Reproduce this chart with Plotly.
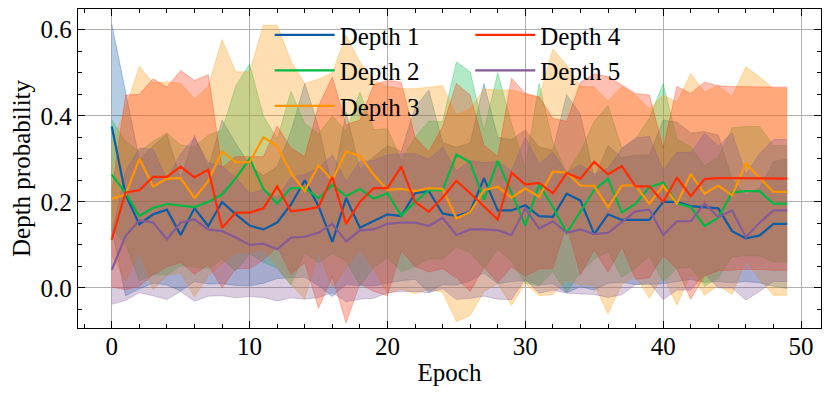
import plotly.graph_objs as go

epochs = list(range(50))

depth1_mean = [0.375, 0.217, 0.148, 0.171, 0.182, 0.123, 0.185, 0.144, 0.200, 0.171,
               0.145, 0.136, 0.152, 0.194, 0.250, 0.190, 0.107, 0.209, 0.140, 0.155,
               0.171, 0.167, 0.220, 0.225, 0.173, 0.167, 0.177, 0.255, 0.180, 0.180,
               0.192, 0.167, 0.165, 0.219, 0.203, 0.125, 0.171, 0.158, 0.158, 0.158,
               0.200, 0.200, 0.190, 0.188, 0.185, 0.132, 0.115, 0.122, 0.149, 0.149]
depth1_std = [0.238, 0.235, 0.150, 0.160, 0.175, 0.130, 0.170, 0.135, 0.190, 0.165,
              0.140, 0.125, 0.130, 0.170, 0.225, 0.185, 0.127, 0.200, 0.135, 0.150,
              0.160, 0.150, 0.200, 0.235, 0.165, 0.160, 0.160, 0.220, 0.170, 0.165,
              0.175, 0.160, 0.155, 0.230, 0.200, 0.130, 0.160, 0.145, 0.150, 0.150,
              0.190, 0.185, 0.170, 0.175, 0.170, 0.120, 0.100, 0.110, 0.145, 0.150]

depth2_mean = [0.263, 0.221, 0.167, 0.186, 0.195, 0.192, 0.188, 0.200, 0.217, 0.255,
               0.300, 0.230, 0.196, 0.232, 0.232, 0.208, 0.240, 0.213, 0.230, 0.208,
               0.220, 0.168, 0.200, 0.227, 0.227, 0.310, 0.292, 0.205, 0.295, 0.222,
               0.145, 0.240, 0.188, 0.128, 0.177, 0.227, 0.254, 0.175, 0.196, 0.234,
               0.245, 0.196, 0.188, 0.144, 0.163, 0.222, 0.225, 0.225, 0.196, 0.196]
depth2_std = [0.127, 0.120, 0.150, 0.155, 0.165, 0.140, 0.140, 0.155, 0.150, 0.215,
              0.220, 0.170, 0.150, 0.225, 0.150, 0.150, 0.160, 0.150, 0.225, 0.160,
              0.150, 0.130, 0.150, 0.160, 0.160, 0.215, 0.210, 0.160, 0.205, 0.160,
              0.134, 0.235, 0.150, 0.138, 0.140, 0.160, 0.170, 0.150, 0.150, 0.160,
              0.230, 0.150, 0.140, 0.140, 0.140, 0.150, 0.150, 0.150, 0.135, 0.135]

depth3_mean = [0.207, 0.217, 0.300, 0.236, 0.254, 0.255, 0.209, 0.248, 0.317, 0.292,
               0.292, 0.350, 0.330, 0.267, 0.225, 0.285, 0.250, 0.317, 0.307, 0.263,
               0.228, 0.230, 0.225, 0.232, 0.230, 0.162, 0.176, 0.227, 0.235, 0.210,
               0.231, 0.212, 0.270, 0.268, 0.238, 0.237, 0.187, 0.238, 0.238, 0.196,
               0.238, 0.196, 0.265, 0.219, 0.238, 0.215, 0.289, 0.255, 0.223, 0.223]
depth3_std = [0.130, 0.200, 0.215, 0.240, 0.225, 0.220, 0.230, 0.220, 0.260, 0.210,
              0.210, 0.260, 0.280, 0.260, 0.250, 0.200, 0.250, 0.270, 0.218, 0.220,
              0.240, 0.233, 0.238, 0.235, 0.240, 0.240, 0.240, 0.235, 0.225, 0.250,
              0.220, 0.230, 0.285, 0.250, 0.230, 0.230, 0.247, 0.230, 0.210, 0.220,
              0.210, 0.236, 0.233, 0.236, 0.232, 0.230, 0.225, 0.235, 0.240, 0.240]

depth4_mean = [0.112, 0.222, 0.227, 0.258, 0.258, 0.282, 0.257, 0.275, 0.140, 0.175,
               0.175, 0.185, 0.236, 0.178, 0.182, 0.188, 0.258, 0.149, 0.200, 0.232,
               0.232, 0.282, 0.200, 0.177, 0.210, 0.249, 0.220, 0.190, 0.159, 0.268,
               0.240, 0.244, 0.220, 0.267, 0.254, 0.293, 0.264, 0.283, 0.236, 0.236,
               0.200, 0.256, 0.213, 0.253, 0.255, 0.255, 0.255, 0.255, 0.254, 0.254]
depth4_std = [0.110, 0.226, 0.223, 0.228, 0.209, 0.223, 0.225, 0.221, 0.140, 0.130,
              0.130, 0.120, 0.140, 0.147, 0.123, 0.235, 0.232, 0.230, 0.190, 0.240,
              0.250, 0.196, 0.150, 0.140, 0.165, 0.226, 0.228, 0.142, 0.146, 0.219,
              0.212, 0.200, 0.174, 0.120, 0.224, 0.204, 0.227, 0.188, 0.216, 0.212,
              0.125, 0.212, 0.239, 0.225, 0.215, 0.213, 0.212, 0.212, 0.213, 0.213]

depth5_mean = [0.042, 0.121, 0.157, 0.152, 0.113, 0.152, 0.159, 0.136, 0.132, 0.117,
               0.100, 0.103, 0.090, 0.117, 0.119, 0.128, 0.149, 0.108, 0.134, 0.136,
               0.149, 0.152, 0.152, 0.144, 0.163, 0.123, 0.136, 0.136, 0.134, 0.123,
               0.185, 0.138, 0.155, 0.128, 0.136, 0.125, 0.128, 0.154, 0.178, 0.182,
               0.123, 0.155, 0.155, 0.196, 0.165, 0.180, 0.118, 0.152, 0.180, 0.180]
depth5_std = [0.080, 0.150, 0.168, 0.170, 0.140, 0.160, 0.190, 0.155, 0.150, 0.140,
              0.120, 0.125, 0.120, 0.140, 0.145, 0.150, 0.160, 0.140, 0.160, 0.160,
              0.160, 0.160, 0.160, 0.155, 0.165, 0.150, 0.160, 0.155, 0.160, 0.150,
              0.165, 0.150, 0.160, 0.140, 0.150, 0.140, 0.150, 0.170, 0.170, 0.170,
              0.150, 0.160, 0.160, 0.163, 0.165, 0.180, 0.146, 0.160, 0.165, 0.165]

names = ["Depth 1", "Depth 2", "Depth 3", "Depth 4", "Depth 5"]
means = [depth1_mean, depth2_mean, depth3_mean, depth4_mean, depth5_mean]
stds = [depth1_std, depth2_std, depth3_std, depth4_std, depth5_std]
colors = ["#0C5DA5", "#00B945", "#FF9500", "#FF2C00", "#845B97"]

FONT = "Liberation Serif"
FS = 25


def rgba(hex_color, alpha):
    """Turns a hex colour into an rgba string with the given alpha."""
    h = hex_color.lstrip("#")
    r, g, b = int(h[0:2], 16), int(h[2:4], 16), int(h[4:6], 16)
    return f"rgba({r},{g},{b},{alpha})"


fig = go.Figure()

# shaded bands (mean +/- std) go first so the lines sit on top
for mean, std, color in zip(means, stds, colors):
    upper = [m + s for m, s in zip(mean, std)]
    lower = [m - s for m, s in zip(mean, std)]
    fig.add_trace(go.Scatter(x=epochs, y=upper, mode="lines",
                             line=dict(color=rgba(color, 0.3), width=1),
                             showlegend=False, hoverinfo="skip"))
    fig.add_trace(go.Scatter(x=epochs, y=lower, mode="lines", fill="tonexty",
                             fillcolor=rgba(color, 0.3),
                             line=dict(color=rgba(color, 0.3), width=1),
                             showlegend=False, hoverinfo="skip"))

for i, (name, mean, color) in enumerate(zip(names, means, colors)):
    fig.add_trace(go.Scatter(x=epochs, y=mean, mode="lines", name=name,
                             line=dict(color=color, width=2.2),
                             legend="legend" if i < 3 else "legend2"))

axis_common = dict(showline=True, linecolor="black", linewidth=1.3, mirror="ticks",
                   ticks="inside", ticklen=7, tickwidth=1.2, tickcolor="black",
                   showgrid=True, gridcolor="#b0b0b0", gridwidth=1, zeroline=False,
                   automargin=False,
                   tickfont=dict(family=FONT, size=FS, color="black"))

legend_common = dict(xanchor="left", yanchor="top", bgcolor="rgba(0,0,0,0)",
                     font=dict(family=FONT, size=FS), tracegroupgap=0, itemwidth=60,
                     traceorder="normal")

# the page body adds an 8px margin, so the figure is 8px smaller on each side
fig.update_layout(
    width=814, height=382,
    margin=dict(l=70, r=1, t=1, b=62),
    plot_bgcolor="white", paper_bgcolor="white",
    font=dict(family=FONT, size=FS, color="black"),
    xaxis=dict(range=[-2.45, 51.45], dtick=10, tick0=0, ticklabelstandoff=-4,
               minor=dict(dtick=2, ticks="inside", ticklen=3.5, tickcolor="black", showgrid=False),
               title=dict(text="Epoch", font=dict(family=FONT, size=FS), standoff=4),
               **axis_common),
    yaxis=dict(range=[-0.093, 0.648], dtick=0.2, tick0=0, tickformat=".1f", ticklabelstandoff=0,
               minor=dict(dtick=0.05, ticks="inside", ticklen=3.5, tickcolor="black", showgrid=False),
               title=dict(text="Depth probability", font=dict(family=FONT, size=FS), standoff=6),
               **axis_common),
    legend=dict(x=0.258, y=0.99, **legend_common),
    legend2=dict(x=0.528, y=0.99, **legend_common),
)

fig.write_html("out.html")
